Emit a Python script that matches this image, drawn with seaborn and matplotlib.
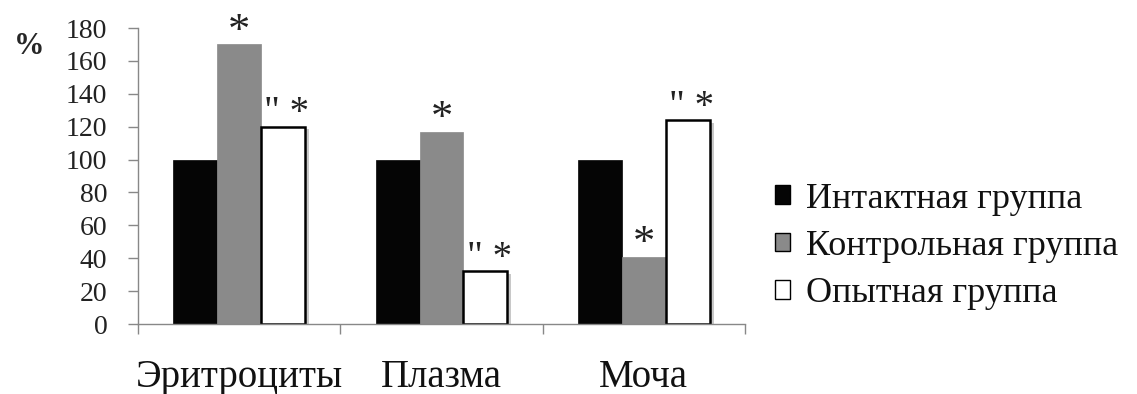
import pandas as pd
import matplotlib
matplotlib.use("Agg")
import matplotlib.pyplot as plt
import matplotlib.patheffects as pe
import seaborn as sns

sns.set_theme(style="white")
plt.rcParams['font.family'] = ['Liberation Serif', 'DejaVu Serif']

categories = ['Эритроциты', 'Плазма', 'Моча']
groups = ['Интактная группа', 'Контрольная группа', 'Опытная группа']
intact = [100, 100, 100]
control = [170, 117, 41]
experimental = [120, 32, 124]
marks_control = ['*', '*', '*']
marks_exp = ['" *', '" *', '" *']
colors = ['#050505', '#8a8a8a', '#ffffff']

df = pd.DataFrame({
    'cat': categories * 3,
    'group': [groups[0]] * 3 + [groups[1]] * 3 + [groups[2]] * 3,
    'val': intact + control + experimental,
})

fig = plt.figure(figsize=(11.37, 3.94), dpi=100)
ax = fig.add_axes([138 / 1137, 70 / 394, 607 / 1137, 296 / 394])

sns.barplot(data=df, x='cat', y='val', hue='group', hue_order=groups,
            palette=colors, saturation=1, width=0.65, ax=ax, legend=True)

shadow = [pe.SimplePatchShadow(offset=(3, -2), shadow_rgbFace='#bbbbbb', alpha=0.8), pe.Normal()]
for i, bars in enumerate(ax.containers):
    for b in bars:
        if i == 2:
            b.set_edgecolor('black')
            b.set_linewidth(1.8)
            b.set_path_effects(shadow)
        else:
            b.set_edgecolor(colors[i])
            b.set_linewidth(0.5)

# significance marks
for b, m in zip(ax.containers[1], marks_control):
    ax.text(b.get_x() + b.get_width() / 2, b.get_height() + 1, m,
            ha='center', va='baseline', fontsize=32, color='#222222')
for b, m in zip(ax.containers[2], marks_exp):
    ax.text(b.get_x() + b.get_width() / 2 + 0.02, b.get_height() + 2, m,
            ha='center', va='baseline', fontsize=28, color='#222222')

ax.set_ylim(0, 180)
ax.set_xlim(-0.5, 2.5)
ax.set_yticks(range(0, 181, 20))
ax.set_xlabel('')
ax.set_ylabel('')
ax.tick_params(axis='y', labelsize=20, length=7, width=1, color='#888888',
               direction='out', left=True, pad=15, labelcolor='#222222')
ax.tick_params(axis='x', labelsize=28, length=0, pad=25, labelcolor='#111111')
ax.set_xticks([-0.5, 0.5, 1.5, 2.5], minor=True)
ax.tick_params(axis='x', which='minor', length=7, width=1, color='#888888',
               direction='out', bottom=True)
for s in ['top', 'right']:
    ax.spines[s].set_visible(False)
for s in ['left', 'bottom']:
    ax.spines[s].set_color('#888888')
    ax.spines[s].set_linewidth(1)

fig.text(14 / 1137, 1 - 46 / 394, '%', fontsize=22, fontweight='bold', va='center')

leg = ax.legend(loc='center left', bbox_to_anchor=(1.049, 0.262), frameon=False,
                fontsize=26, handlelength=0.42, handleheight=0.42,
                handletextpad=0.45, labelspacing=0.4, borderpad=0, borderaxespad=0)
for h in leg.legend_handles:
    h.set_edgecolor('black')
    h.set_linewidth(1)
    h.set_path_effects([])
for t in leg.get_texts():
    t.set_color('#111111')

fig.savefig('out.png', dpi=100)
